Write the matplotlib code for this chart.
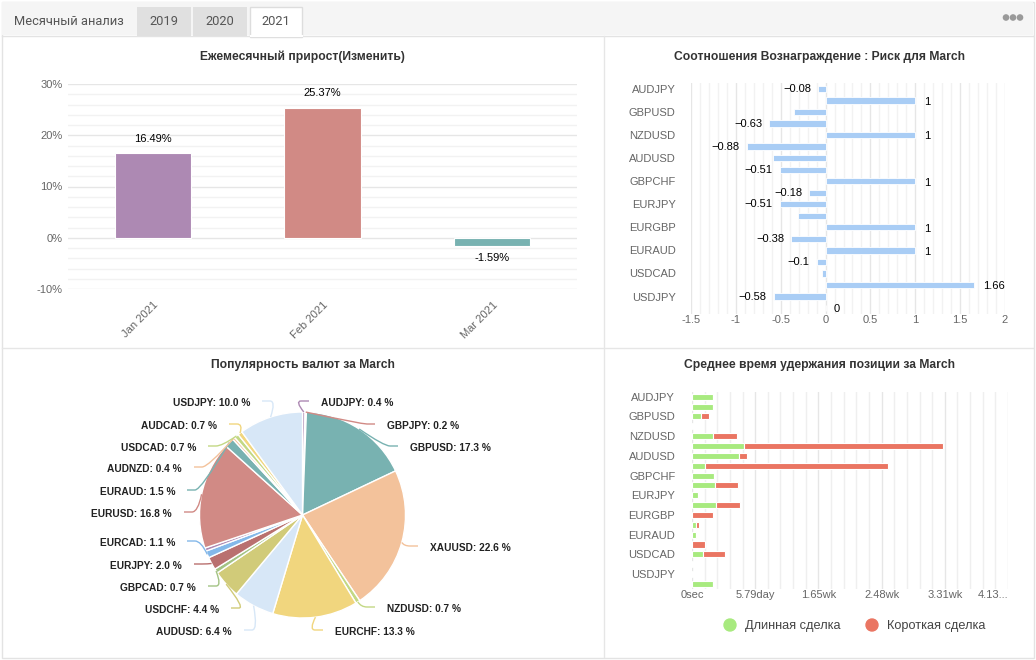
import matplotlib
matplotlib.use('Agg')
import matplotlib.pyplot as plt
import numpy as np
from matplotlib.patches import Rectangle, Circle, PathPatch
from matplotlib.path import Path

plt.rcParams['font.family'] = ['Liberation Sans', 'DejaVu Sans']

# ---------------- data ----------------
tabs = ['Месячный анализ', '2019', '2020', '2021']

months = ['Jan 2021', 'Feb 2021', 'Mar 2021']
monthly_growth = [16.49, 25.37, -1.59]

pair_ticks = ['AUDJPY', 'GBPUSD', 'NZDUSD', 'AUDUSD', 'GBPCHF',
              'EURJPY', 'EURGBP', 'EURAUD', 'USDCAD', 'USDJPY']

rr_values = [-0.08, 1, -0.356, -0.63, 1, -0.88, -0.59, -0.51, 1, -0.18,
             -0.51, -0.31, 1, -0.38, 1, -0.1, -0.044, 1.66, -0.58, 0]
rr_hidden_labels = [2, 6, 11, 16]

pie_names = ['AUDJPY', 'GBPJPY', 'GBPUSD', 'XAUUSD', 'NZDUSD', 'EURCHF',
             'AUDUSD', 'USDCHF', 'GBPCAD', 'EURJPY', 'EURCAD', '',
             'EURUSD', 'EURAUD', 'AUDNZD', 'USDCAD', 'AUDCAD', 'USDJPY']
pie_values = [0.4, 0.2, 17.3, 22.6, 0.7, 13.3, 6.4, 4.4, 0.7, 2.0, 1.1, 0.5,
              16.8, 1.5, 0.4, 0.7, 0.7, 10.0]

# average holding time, days
hold_long = [1.92, 1.92, 0.82, 0.12, 1.96, 4.77, 4.34, 1.22, 2.05, 2.08,
             0.52, 2.23, 0.0, 0.34, 0.34, 0.0, 1.04, 0.12, 0.12, 1.92]
hold_short = [0.0, 0.0, 0.70, 0.0, 2.20, 18.24, 0.70, 16.75, 0.0, 2.17,
              0.0, 2.14, 1.92, 0.27, 0.0, 1.22, 1.98, 0.0, 0.0, 0.0]
hold_tick_labels = ['0sec', '5.79day', '1.65wk', '2.48wk', '3.31wk', '4.13...']
legend_labels = ['Длинная сделка', 'Короткая сделка']

# ---------------- styling ----------------
palette = ['#ad89b3', '#d18a85', '#78b2b1', '#f3c29b', '#c3d884', '#f1d67e',
           '#d7e7f7', '#d1cb79', '#a3c384', '#b9706f', '#84b8e9']
W, H = 1036, 660
TXT = '#333333'
AX = '#666666'
GRID = '#e6e6e6'
MINOR = '#f2f2f2'

fig = plt.figure(figsize=(W / 100, H / 100), dpi=100)


def rect(x0, y0, x1, y1):
    return [x0 / W, 1 - y1 / H, (x1 - x0) / W, (y1 - y0) / H]


bg = fig.add_axes([0, 0, 1, 1])
bg.set_xlim(0, W)
bg.set_ylim(H, 0)
bg.axis('off')

# outer frame + tab bar
bg.add_patch(Rectangle((1.5, 1.5), W - 4, H - 4, facecolor='white', edgecolor='#e3e3e3', lw=1))
bg.add_patch(Rectangle((2, 2), W - 5, 33, facecolor='#f5f5f5', edgecolor='none'))
bg.plot([2, W - 3], [35.5, 35.5], color='#e3e3e3', lw=1)
tab_x = [(3, 134), (137, 191), (193, 247), (250, 302)]
for i, (name, (a, b)) in enumerate(zip(tabs, tab_x)):
    if i in (1, 2):
        bg.add_patch(Rectangle((a, 7), b - a, 28.5, facecolor='#e0e0e0', edgecolor='none'))
    elif i == 3:
        bg.add_patch(Rectangle((a, 7), b - a, 29.5, facecolor='white', edgecolor='#dddddd', lw=1))
        bg.plot([a + 0.5, b - 0.5], [35.5, 35.5], color='white', lw=1.5)
    tx = 14 if i == 0 else (a + b) / 2
    bg.text(tx, 21.5, name, ha='left' if i == 0 else 'center', va='center',
            fontsize=9.3, color='#555555', family=['Roboto', 'DejaVu Sans'])
for dx in (1006, 1013, 1020):
    bg.add_patch(Circle((dx, 17.5), 2.6, color='#9a9a9a'))

# panel separators
bg.plot([604, 604], [36, 657], color='#e6e6e6', lw=1)
bg.plot([2, W - 3], [348, 348], color='#e6e6e6', lw=1)

# titles
title_kw = dict(ha='center', va='center', fontsize=8.7, fontweight='bold', color=TXT)
bg.text(302.5, 57, 'Ежемесячный прирост(Изменить)', **title_kw)
bg.text(820, 57, 'Соотношения Вознаграждение : Риск для March', **title_kw)
bg.text(302.5, 365, 'Популярность валют за March', **title_kw)
bg.text(820, 365, 'Среднее время удержания позиции за March', **title_kw)


def clean(ax):
    for s in ax.spines.values():
        s.set_visible(False)
    ax.tick_params(length=0, colors=AX, labelsize=8)


# ---------------- panel 1: monthly growth ----------------
ax1 = fig.add_axes(rect(68, 84, 577, 289))
clean(ax1)
ax1.set_xlim(-0.5, 2.5)
ax1.set_ylim(-10, 30)
for v in np.arange(-10, 31, 2):
    ax1.axhline(v, color=GRID if v % 10 == 0 else MINOR, lw=1, zorder=0)
x1 = np.arange(len(months))
ax1.bar(x1, monthly_growth, width=0.45, color=palette[:3], edgecolor='white', lw=0.8, zorder=2)
ax1.set_yticks([-10, 0, 10, 20, 30])
ax1.set_yticklabels(['-10%', '0%', '10%', '20%', '30%'])
ax1.tick_params(axis='y', pad=4)
ax1.set_xticks(x1)
ax1.set_xticklabels(months, rotation=45, ha='right', va='top', rotation_mode='anchor')
ax1.tick_params(axis='x', pad=8)
for xi, v in zip(x1, monthly_growth):
    off = 7 if v >= 0 else -5
    ax1.annotate(f'{v:.2f}%', (xi, v), xytext=(0, off), textcoords='offset points',
                 ha='center', va='bottom' if v >= 0 else 'top', fontsize=8, color='black')

# ---------------- panel 2: reward/risk ----------------
ax2 = fig.add_axes(rect(691, 83.2, 1005, 313.8))
clean(ax2)
n = len(rr_values)
ax2.set_xlim(-1.5, 2)
ax2.set_ylim(n - 0.5, -0.5)
for v in np.round(np.arange(-1.5, 2.001, 0.1), 2):
    major = abs(v * 2 - round(v * 2)) < 1e-6
    ax2.axvline(v, color=GRID if major else MINOR, lw=1, zorder=0)
y2 = np.arange(n)
ax2.barh(y2, rr_values, height=0.55, color='#a9cdf5', edgecolor='white', lw=0.6, zorder=2)
ax2.set_xticks(np.arange(-1.5, 2.01, 0.5))
ax2.set_xticklabels(['-1.5', '-1', '-0.5', '0', '0.5', '1', '1.5', '2'])
ax2.tick_params(axis='x', pad=1)
ax2.set_yticks(y2[::2])
ax2.set_yticklabels(pair_ticks)
ax2.tick_params(axis='y', pad=11)
for yi, v in zip(y2, rr_values):
    if yi in rr_hidden_labels:
        continue
    lab = f'{v:g}'.replace('-', '−')
    if v < 0:
        ax2.annotate(lab, (v, yi), xytext=(-5, 0), textcoords='offset points',
                     ha='right', va='center', fontsize=8, color='black')
    else:
        ax2.annotate(lab, (v, yi), xytext=(6, -1), textcoords='offset points',
                     ha='left', va='center', fontsize=8, color='black')

# ---------------- panel 3: pie ----------------
ax3 = fig.add_axes(rect(0, 350, 604, 660))
ax3.axis('off')
cx, cy, R = 302.5, -515.0, 103.0
pie_colors = [palette[i % len(palette)] for i in range(len(pie_values))]
ax3.pie(pie_values, colors=pie_colors, startangle=90, counterclock=False,
        center=(cx, cy), radius=R, wedgeprops=dict(edgecolor='white', linewidth=1))
ax3.set_xlim(0, 604)
ax3.set_ylim(-660, -350)
ax3.set_aspect('auto')

# label layout: (text edge x, text center y) in pixels
pie_label_pos = [(321, 403), (387, 426), (410, 448), (430, 548), (387, 609), (335, 632),
                 (232, 632), (219, 610), (196, 588), (182, 566), (175, 543), None,
                 (172, 514), (175, 492), (182, 469), (196, 448), (217, 426), (250, 403)]
tot = sum(pie_values)
cum = 0.0
for name, val, col, pos in zip(pie_names, pie_values, pie_colors, pie_label_pos):
    mid = (cum + val / 2) / tot * 2 * np.pi
    cum += val
    if pos is None:
        continue
    ex = cx + R * np.sin(mid)
    ey = cy + R * np.cos(mid)
    tx, ty = pos[0], -pos[1]
    right = tx > cx
    s = -1 if right else 1
    p0 = (tx + s * 12, ty + 2)
    p1 = (tx + s * 20, ty + 2)
    ctrl = (p1[0] + s * 6, ty + 2)
    path = Path([p0, p1, ctrl, (ex, ey)],
                [Path.MOVETO, Path.LINETO, Path.CURVE3, Path.CURVE3])
    ax3.add_patch(PathPatch(path, facecolor='none', edgecolor=col, lw=1))
    ax3.text(tx, ty, f'{name}: {val:.1f} %', ha='left' if right else 'right', va='center',
             fontsize=7.3, fontweight='bold', color='#222222')

# ---------------- panel 4: holding time ----------------
ax4 = fig.add_axes(rect(692, 391.8, 1008, 588.9))
clean(ax4)
step = 500000 / 86400.0
ax4.set_xlim(0, 5 * step)
ax4.set_ylim(n - 0.5, -0.5)
for k in range(26):
    ax4.axvline(k * step / 5, color=GRID if k % 5 == 0 else '#efefef', lw=1, zorder=0)
y4 = np.arange(len(hold_long))
green, red = '#a8ea7f', '#ea7562'
ax4.barh(y4, hold_long, height=0.62, color=green, edgecolor='white', lw=0.8, zorder=2)
ax4.barh(y4, hold_short, left=hold_long, height=0.62, color=red, edgecolor='white', lw=0.8, zorder=2)
ax4.set_xticks(np.arange(6) * step)
ax4.set_xticklabels(hold_tick_labels)
ax4.get_xticklabels()[-1].set_ha('right')
ax4.tick_params(axis='x', pad=1)
ax4.set_yticks(y4[::2])
ax4.set_yticklabels(pair_ticks)
ax4.tick_params(axis='y', pad=12)

# legend
for (lx, col, lab) in [(730, green, legend_labels[0]), (872, red, legend_labels[1])]:
    bg.add_patch(Circle((lx, 625), 6, color=col))
    bg.text(lx + 15, 626, lab, ha='left', va='center', fontsize=9.2, color='#444444')

fig.savefig('out.png', dpi=100)
